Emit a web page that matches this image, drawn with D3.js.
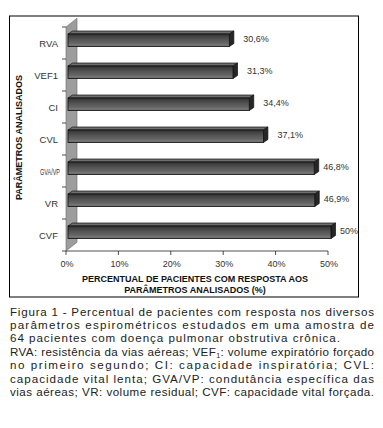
<!DOCTYPE html>
<html><head><meta charset="utf-8">
<script src="https://cdn.jsdelivr.net/npm/d3@7"></script>
<style>html,body{margin:0;padding:0;background:#fff;}svg{display:block;}</style>
</head><body>
<script>
const categories = ["RVA","VEF1","CI","CVL","GVA/VP","VR","CVF"];
const values = [30.6,31.3,34.4,37.1,46.8,46.9,50];
const xTicks = [0,10,20,30,40,50];
const yTitle = "PARÂMETROS ANALISADOS";
const xTitle = ["PERCENTUAL DE PACIENTES COM RESPOSTA AOS","PARÂMETROS ANALISADOS (%)"];
const captionLines = [
  {t:"Figura 1 - Percentual de pacientes com resposta nos diversos", w:364},
  {t:"parâmetros espirométricos estudados em uma amostra de", w:364},
  {t:"64 pacientes com doença pulmonar obstrutiva crônica.", w:330},
  {t:"RVA: resistência da vias aéreas; VEF|1|: volume expiratório forçado", w:364},
  {t:"no primeiro segundo; CI: capacidade inspiratória; CVL:", w:364},
  {t:"capacidade vital lenta; GVA/VP: condutância específica das", w:364},
  {t:"vias aéreas; VR: volume residual; CVF: capacidade vital forçada.", w:364}
];

const W=383,H=428;
const svg=d3.select("body").append("svg").attr("width",W).attr("height",H);
const defs=svg.append("defs");
const g=defs.append("linearGradient").attr("id","barg").attr("x1",0).attr("y1",0).attr("x2",0).attr("y2",1);
[[0,"#333"],[0.35,"#4e4e4e"],[0.75,"#666"],[0.9,"#7c7c7c"],[1,"#3a3a3a"]].forEach(s=>g.append("stop").attr("offset",s[0]).attr("stop-color",s[1]));

// frame
svg.append("rect").attr("x",9.5).attr("y",16).attr("width",349).attr("height",281).attr("fill","#fff").attr("stroke","#000").attr("stroke-width",1);

const x=d3.scaleLinear().domain([0,50]).range([66,328]);
const y=d3.scaleBand().domain(categories).range([27,251]);

// wall
const wdx=11,wdy=8.7;
const y0=y.range()[0],y1=y.range()[1];
svg.append("polygon").attr("points",[[x(0),y0],[x(0)+wdx,y0-wdy],[x(0)+wdx,y1-wdy],[x(0),y1]].map(p=>p.join(",")).join(" "))
  .attr("fill","#9d9d9d").attr("stroke","#6a6a6a").attr("stroke-width",0.6);

// y ticks
const yb=categories.map(c=>y(c)).concat([y1]);
svg.selectAll(".yt").data(yb).join("line").attr("x1",x(0)-4).attr("x2",x(0)).attr("y1",d=>d).attr("y2",d=>d).attr("stroke","#222").attr("stroke-width",0.8);

// x axis
svg.append("line").attr("x1",x(0)).attr("x2",x(50)).attr("y1",y1).attr("y2",y1).attr("stroke","#222").attr("stroke-width",0.8);
svg.selectAll(".xt").data(xTicks).join("line").attr("x1",d=>x(d)).attr("x2",d=>x(d)).attr("y1",y1).attr("y2",y1+4).attr("stroke","#222").attr("stroke-width",0.8);
svg.selectAll(".xl").data(xTicks).join("text").attr("x",d=>x(d)+1).attr("y",y1+15.5).attr("text-anchor","middle")
  .attr("font-family","Liberation Sans, Arial, sans-serif").attr("font-size",9).attr("fill","#333").text(d=>d+"%");

// bars
const bdx=4.5,bdy=3;
const bars=svg.selectAll(".bar").data(categories.map((c,i)=>({c,v:values[i]}))).join("g");
bars.each(function(d){
  const sel=d3.select(this);
  const fx0=x(0)+2, fx1=x(d.v)+3, fy0=y(d.c)+7, fy1=y(d.c)+19.5;
  sel.append("polygon").attr("points",[[fx0,fy0],[fx0+bdx,fy0-bdy],[fx1+bdx,fy0-bdy],[fx1,fy0]].map(p=>p.join(",")).join(" "))
    .attr("fill","#6e6e6e").attr("stroke","#111").attr("stroke-width",0.7);
  sel.append("polygon").attr("points",[[fx1,fy0],[fx1+bdx,fy0-bdy],[fx1+bdx,fy1-bdy],[fx1,fy1]].map(p=>p.join(",")).join(" "))
    .attr("fill","#262626").attr("stroke","#111").attr("stroke-width",0.7);
  sel.append("rect").attr("x",fx0).attr("y",fy0).attr("width",fx1-fx0).attr("height",fy1-fy0)
    .attr("fill","url(#barg)").attr("stroke","#111").attr("stroke-width",0.8);
  const lbl = (d.v%1===0? String(d.v) : d.v.toFixed(1).replace(".",","))+"%";
  sel.append("text").attr("x",fx1+(d.v>45?9:14)).attr("y",(fy0+fy1)/2+1.5).attr("font-family","Liberation Sans, Arial, sans-serif")
    .attr("font-size",9).attr("fill","#333").text(lbl);
});

// category labels
svg.selectAll(".cl").data(categories).join("text").attr("x",58).attr("y",d=>y(d)+y.bandwidth()/2+3.5).attr("text-anchor","end")
  .attr("font-family","Liberation Sans, Arial, sans-serif").attr("font-size",9.5).attr("fill","#333").text(d=>d)
  .each(function(){ const L=this.getComputedTextLength(); if(L>26){ d3.select(this).attr("textLength",20).attr("lengthAdjust","spacingAndGlyphs").attr("font-size",8.5).attr("x",60);} });

// titles
svg.append("text").attr("transform","translate(21.5,137.5) rotate(-90)").attr("text-anchor","middle")
  .attr("font-family","Liberation Sans, Arial, sans-serif").attr("font-size",9).attr("font-weight","bold").attr("fill","#111").text(yTitle);
svg.selectAll(".xtit").data(xTitle).join("text").attr("x",195).attr("y",(d,i)=>282+i*11).attr("text-anchor","middle")
  .attr("font-family","Liberation Sans, Arial, sans-serif").attr("font-size",9).attr("font-weight","bold").attr("fill","#111").text(d=>d);

// caption
const cap=svg.append("g");
captionLines.forEach((ln,i)=>{
  const t=cap.append("text").attr("x",10).attr("y",315.5+i*13.4).attr("font-family","'Liberation Sans', Arial, sans-serif")
    .attr("font-size",11.6).attr("fill","#222");
  const parts=ln.t.split("|");
  parts.forEach((p,k)=>{
    const ts=t.append("tspan").text(p);
    if(k===1){ ts.attr("font-size",7).attr("dy",2); }
    if(k===2){ ts.attr("dy",-2); }
  });
  t.attr("textLength",ln.w).attr("lengthAdjust","spacing");
});
</script>
</body></html>
